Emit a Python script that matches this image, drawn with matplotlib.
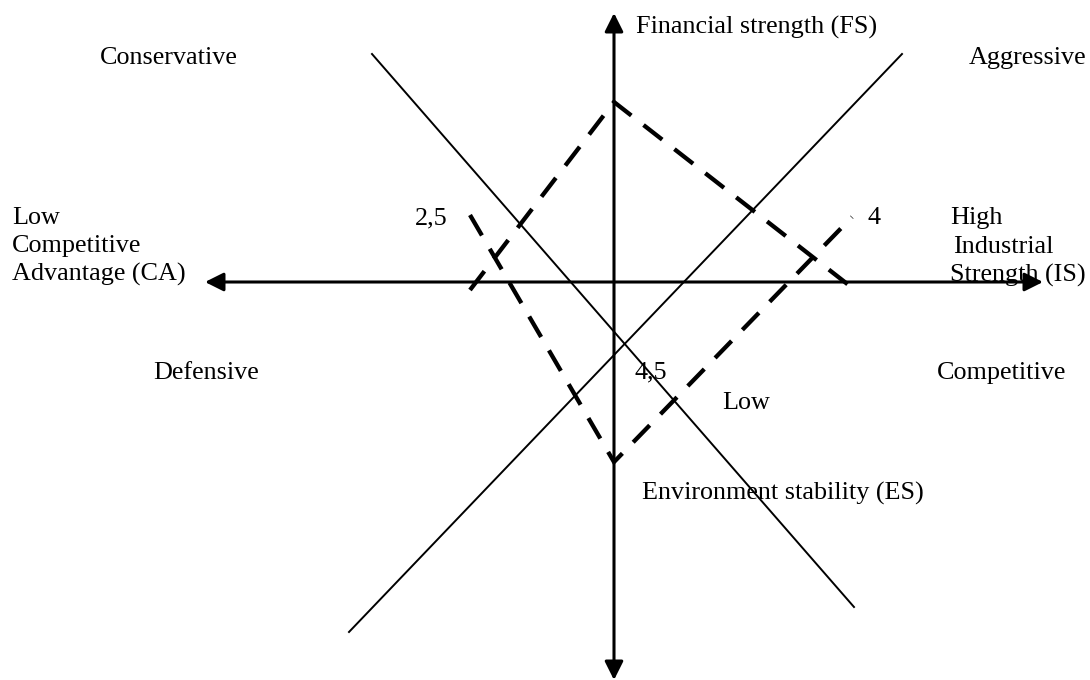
import matplotlib.pyplot as plt

plt.rcParams['font.family'] = ['Liberation Serif', 'DejaVu Serif']

# positions are in pixel-like units measured from the axis crossing (y up)
axis_ends = {"CA": -409, "IS": 429, "FS": 269, "ES": -398}

diag_a_x = [-242, 240]
diag_a_y = [228, -325]
diag_b_x = [-265, 288]
diag_b_y = [-350, 228]

# the two dashed profiles
profile1_x = [-144, 0, 241]
profile1_y = [-8, 180, -8]
profile2_x = [-144, 0, 238]
profile2_y = [67, -180, 65]

# (text, x, y, ha)
labels = [
    ("Financial strength (FS)", 22, 255, "left"),
    ("Conservative", -445, 224, "center"),
    ("Aggressive", 414, 224, "center"),
    ("Low", -602, 64, "left"),
    ("Competitive", -602, 36, "left"),
    ("Advantage (CA)", -602, 8, "left"),
    ("2,5", -183, 64, "center"),
    ("4", 260, 64, "center"),
    ("High", 336, 64, "left"),
    ("Industrial", 339, 35, "left"),
    ("Strength (IS)", 336, 7, "left"),
    ("Defensive", -408, -91, "center"),
    ("4,5", 37, -90, "center"),
    ("Competitive", 388, -91, "center"),
    ("Low", 132, -121, "center"),
    ("Environment stability (ES)", 169, -211, "center"),
]

fig = plt.figure(figsize=(10.9, 6.8), dpi=100)
ax = fig.add_axes([0, 0, 1, 1])
ax.set_xlim(-614, 476)
ax.set_ylim(-398, 282)
ax.axis("off")

arrow_style = dict(arrowstyle="-|>", lw=2.2, color="black",
                   mutation_scale=28, shrinkA=0, shrinkB=0)
for tip in (axis_ends["CA"], axis_ends["IS"]):
    ax.annotate("", xy=(tip, 0), xytext=(0, 0), arrowprops=arrow_style)
for tip in (axis_ends["FS"], axis_ends["ES"]):
    ax.annotate("", xy=(0, tip), xytext=(0, 0), arrowprops=arrow_style)

ax.plot(diag_a_x, diag_a_y, color="black", lw=1.4)
ax.plot(diag_b_x, diag_b_y, color="black", lw=1.4)

for px, py in ((profile1_x, profile1_y), (profile2_x, profile2_y)):
    ax.plot(px, py, color="black", lw=3.1, linestyle=(0, (5.5, 3.6)),
            solid_joinstyle="miter", dash_joinstyle="miter")

for text, x, y, ha in labels:
    ax.text(x, y, text, ha=ha, va="center", fontsize=18.8)

fig.savefig("out.png", dpi=100)
